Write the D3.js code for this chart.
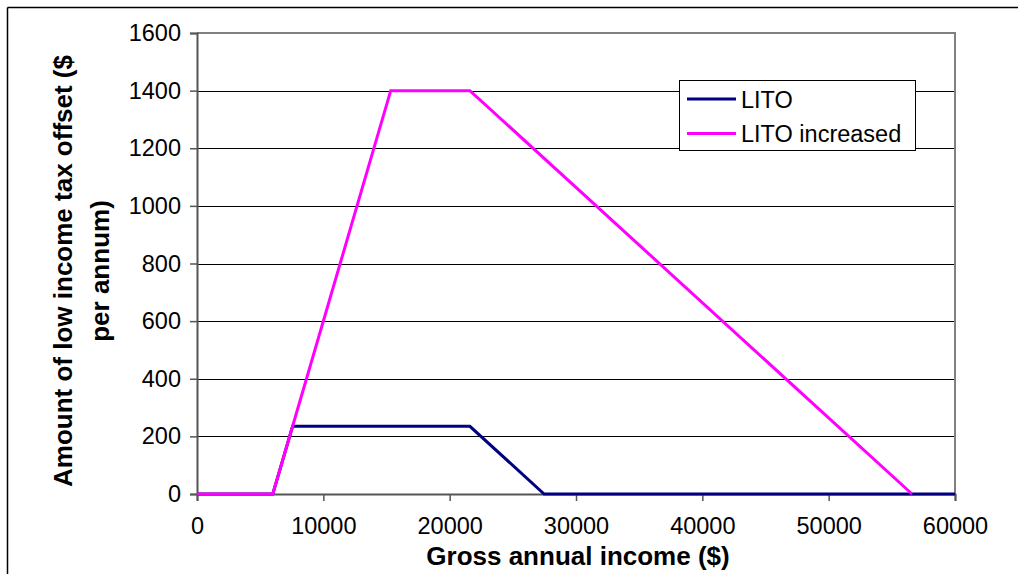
<!DOCTYPE html>
<html>
<head>
<meta charset="utf-8">
<script src="https://cdn.jsdelivr.net/npm/d3@7"></script>
<style>
  html, body { margin: 0; padding: 0; background: #fff; }
  svg { display: block; }
  text { font-family: Arial, "Liberation Sans", sans-serif; }
</style>
</head>
<body>
<svg id="chart" width="1018" height="574"></svg>
<script>
// Low income tax offset by gross annual income
const xTicks = [0, 10000, 20000, 30000, 40000, 50000, 60000];
const yTicks = [0, 200, 400, 600, 800, 1000, 1200, 1400, 1600];

const litoIncome  = [0, 6000, 7567, 21600, 27475, 60000];
const litoOffset  = [0, 0, 235, 235, 0, 0];

const incIncome   = [0, 6000, 15333, 21600, 56600];
const incOffset   = [0, 0, 1400, 1400, 0];

const seriesNames  = ["LITO", "LITO increased"];
const seriesColors = ["#000080", "#FF00FF"];

const svg = d3.select("#chart");
const plot = { left: 197, right: 955, top: 33, bottom: 494 };

const x = d3.scaleLinear().domain([0, 60000]).range([plot.left, plot.right]);
const y = d3.scaleLinear().domain([0, 1600]).range([plot.bottom, plot.top]);

// outer frame (top and left edges visible)
svg.append("line").attr("x1", 7.5).attr("y1", 7.5).attr("x2", 1018).attr("y2", 7.5)
  .attr("stroke", "#000").attr("stroke-width", 1.5);
svg.append("line").attr("x1", 7.5).attr("y1", 7.5).attr("x2", 7.5).attr("y2", 574)
  .attr("stroke", "#000").attr("stroke-width", 1.5);

// horizontal gridlines
svg.append("g").selectAll("line").data(yTicks.filter(d => d > 0 && d < 1600)).join("line")
  .attr("x1", plot.left).attr("x2", plot.right)
  .attr("y1", d => Math.round(y(d)) + 0.5).attr("y2", d => Math.round(y(d)) + 0.5)
  .attr("stroke", "#000").attr("stroke-width", 1);

// plot border top/right
svg.append("path")
  .attr("d", `M${plot.left},${plot.top} H${plot.right} V${plot.bottom}`)
  .attr("fill", "none").attr("stroke", "#808080").attr("stroke-width", 2);

// y axis
const yAxis = d3.axisLeft(y).tickValues(yTicks).tickSize(7).tickPadding(9).tickFormat(d3.format("d"));
const gy = svg.append("g").attr("transform", `translate(${plot.left},0)`).call(yAxis);
gy.select(".domain").attr("stroke", "#555").attr("stroke-width", 2);
gy.selectAll(".tick line").attr("stroke", "#555").attr("stroke-width", 1.5);
gy.selectAll(".tick text").attr("font-size", 23.5).attr("fill", "#000")
  .attr("font-family", "Arial, 'Liberation Sans', sans-serif");

// x axis
const xAxis = d3.axisBottom(x).tickValues(xTicks).tickSize(7).tickPadding(16).tickFormat(d3.format("d"));
const gx = svg.append("g").attr("transform", `translate(0,${plot.bottom})`).call(xAxis);
gx.select(".domain").attr("stroke", "#555").attr("stroke-width", 2);
gx.selectAll(".tick line").attr("stroke", "#555").attr("stroke-width", 1.5);
gx.selectAll(".tick text").attr("font-size", 23.5).attr("fill", "#000")
  .attr("font-family", "Arial, 'Liberation Sans', sans-serif");

// series lines
const line = d3.line().x(d => x(d[0])).y(d => y(d[1]));
const series = [
  d3.zip(litoIncome, litoOffset),
  d3.zip(incIncome, incOffset)
];
series.forEach((pts, i) => {
  svg.append("path").datum(pts)
    .attr("d", line)
    .attr("fill", "none")
    .attr("stroke", seriesColors[i])
    .attr("stroke-width", 3)
    .attr("stroke-linejoin", "miter");
});

// axis titles
svg.append("text")
  .attr("x", 578).attr("y", 565)
  .attr("text-anchor", "middle")
  .attr("font-size", 26).attr("font-weight", "bold")
  .text("Gross annual income ($)");

const yTitle = svg.append("text")
  .attr("transform", "translate(0,271) rotate(-90)")
  .attr("text-anchor", "middle")
  .attr("font-size", 26).attr("font-weight", "bold");
yTitle.append("tspan").attr("x", 0).attr("y", 72).text("Amount of low income tax offset ($");
yTitle.append("tspan").attr("x", 0).attr("y", 109).text("per annum)");

// legend
const legend = svg.append("g");
legend.append("rect")
  .attr("x", 679.5).attr("y", 80.5).attr("width", 236).attr("height", 70)
  .attr("fill", "#fff").attr("stroke", "#000").attr("stroke-width", 1);
const ly = d3.scalePoint().domain(seriesNames).range([99, 133.5]);
seriesNames.forEach((name, i) => {
  legend.append("line")
    .attr("x1", 687).attr("x2", 736)
    .attr("y1", ly(name)).attr("y2", ly(name))
    .attr("stroke", seriesColors[i]).attr("stroke-width", 3);
  legend.append("text")
    .attr("x", 741).attr("y", ly(name) + 8.5)
    .attr("font-size", 23.5).attr("fill", "#000")
    .text(name);
});
</script>
</body>
</html>
